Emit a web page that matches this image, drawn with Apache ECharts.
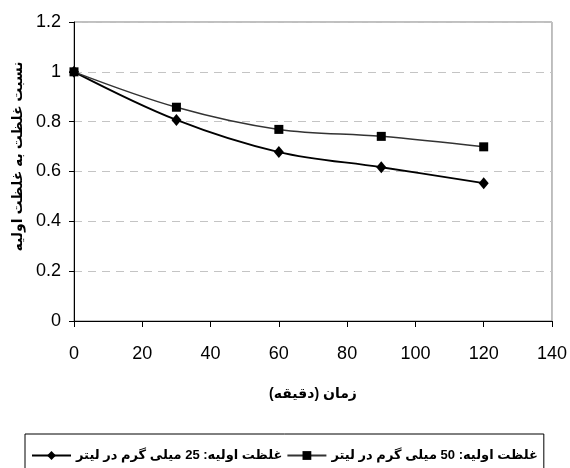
<!DOCTYPE html>
<html>
<head>
<meta charset="utf-8">
<script src="https://cdn.jsdelivr.net/npm/echarts@6/dist/echarts.min.js"></script>
<style>
    html, body { margin: 0; padding: 0; background: #fff; }
    #chart { width: 570px; height: 468px; }
</style>
</head>
<body>
<div id="chart"></div>
<script>
// زمان (دقیقه)
var times = [0, 30, 60, 90, 120];
// غلظت اولیه 25 و 50 میلی گرم در لیتر
var ratio25 = [1, 0.807, 0.678, 0.617, 0.553];
var ratio50 = [1, 0.858, 0.769, 0.741, 0.699];
var seriesNames = ['غلظت اولیه: 25 میلی گرم در لیتر', 'غلظت اولیه: 50 میلی گرم در لیتر'];
var xTicks = [0, 140, 20];
var yTicks = [0, 1.2, 0.2];

var fontFamily = '"Liberation Sans", Arial, "DejaVu Sans", sans-serif';

function pairs(ys) {
    var out = [];
    for (var i = 0; i < times.length; i++) {
        out.push([times[i], ys[i]]);
    }
    return out;
}

var chart = echarts.init(document.getElementById('chart'));
var option = {
    animation: false,
    backgroundColor: '#fff',
    grid: {
        left: 74,
        right: 16,
        top: 22,
        bottom: 147,
        show: true,
        borderColor: '#808080',
        borderWidth: 1
    },
    legend: {
        left: 25,
        top: 434,
        width: 530,
        orient: 'horizontal',
        align: 'left',
        itemWidth: 39,
        itemHeight: 11,
        itemGap: 4,
        padding: [15, 6, 20, 6],
        borderColor: '#000',
        borderWidth: 1,
        textStyle: {
            fontFamily: fontFamily,
            fontWeight: 'bold',
            fontSize: 13,
            color: '#000'
        },
        data: seriesNames
    },
    xAxis: {
        type: 'value',
        min: xTicks[0],
        max: xTicks[1],
        interval: xTicks[2],
        name: 'زمان (دقیقه)',
        nameLocation: 'middle',
        nameGap: 66,
        nameTextStyle: { fontFamily: fontFamily, fontWeight: 'bold', fontSize: 14, color: '#000' },
        axisLine: { lineStyle: { color: '#000', width: 1 } },
        axisTick: { show: true, length: 6, lineStyle: { color: '#000' } },
        axisLabel: { margin: 24, fontFamily: fontFamily, fontSize: 18, color: '#000' },
        splitLine: { show: false }
    },
    yAxis: {
        type: 'value',
        min: yTicks[0],
        max: yTicks[1],
        interval: yTicks[2],
        name: 'نسبت غلظت به غلظت اولیه',
        nameLocation: 'middle',
        nameRotate: 90,
        nameGap: 46,
        nameTextStyle: { fontFamily: fontFamily, fontWeight: 'bold', fontSize: 14, color: '#000', padding: [0, 0, 0, 30] },
        axisLine: { show: true, lineStyle: { color: '#000', width: 1 } },
        axisTick: { show: true, length: 5, lineStyle: { color: '#000' } },
        axisLabel: { margin: 13, fontFamily: fontFamily, fontSize: 18, color: '#000' },
        splitLine: { show: true, lineStyle: { color: '#c4c4c4', type: [8, 6], width: 1 } }
    },
    series: [
        {
            name: seriesNames[0],
            type: 'line',
            smooth: 0.35,
            symbol: 'diamond',
            symbolSize: [10, 12],
            itemStyle: { color: '#000' },
            lineStyle: { color: '#000', width: 1.8 },
            data: pairs(ratio25)
        },
        {
            name: seriesNames[1],
            type: 'line',
            smooth: 0.35,
            symbol: 'rect',
            symbolSize: 9,
            itemStyle: { color: '#000' },
            lineStyle: { color: '#333', width: 1.5 },
            data: pairs(ratio50)
        }
    ]
};
chart.setOption(option);
</script>
</body>
</html>
